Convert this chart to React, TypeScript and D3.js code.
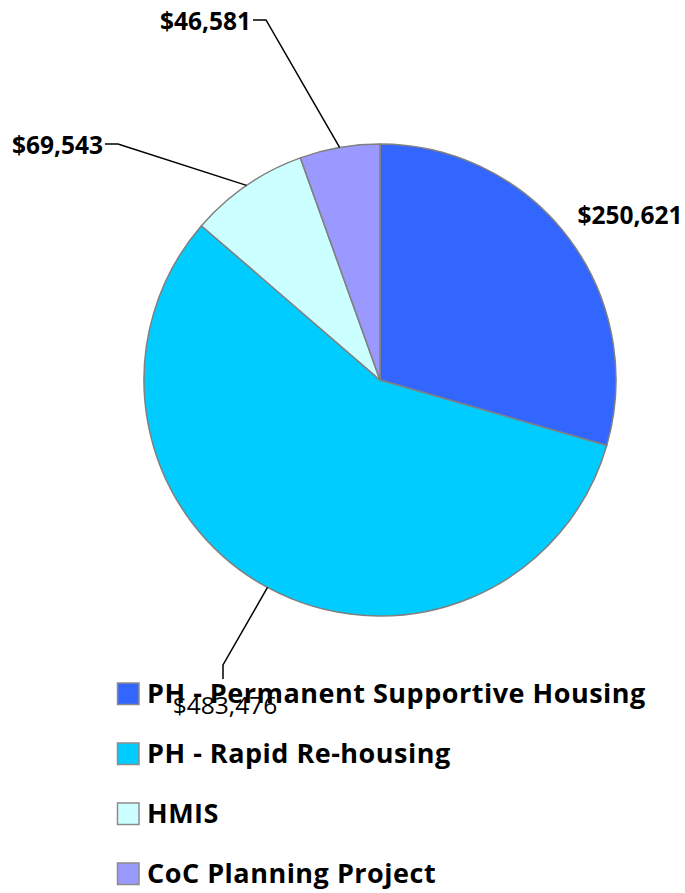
import React from "react";
import * as d3 from "d3";

const categories = [
  "PH - Permanent Supportive Housing",
  "PH - Rapid Re-housing",
  "HMIS",
  "CoC Planning Project",
];
const amounts = [250621, 483476, 69543, 46581];
const sliceColors = ["#3366FF", "#00CCFF", "#CCFFFF", "#9999FF"];

// where each value label sits, relative to the pie centre
// leader: null = no line, "h" = elbow then horizontal run, "v" = elbow then vertical run
const labelLayout = [
  { ex: 250, ey: -156, leader: null, anchor: "middle", bold: true },
  { ex: -157, ey: 285, leader: "v", anchor: "middle", bold: false },
  { ex: -262, ey: -236, leader: "h", anchor: "end", bold: true },
  { ex: -114, ey: -360, leader: "h", anchor: "end", bold: true },
];

const width = 685;
const height = 893;
const cx = 380;
const cy = 380;
const radius = 236;
const font = "'Open Sans', sans-serif";

const money = (v: number) => "$" + d3.format(",")(v);

function Pie() {
  const pie = d3
    .pie<number>()
    .sort(null)
    .value((d) => d)(amounts);

  const arc = d3.arc<d3.PieArcDatum<number>>().innerRadius(0).outerRadius(radius);
  const edge = d3.arc<d3.PieArcDatum<number>>().innerRadius(radius).outerRadius(radius);

  return (
    <g transform={`translate(${cx},${cy})`}>
      {pie.map((slice, i) => (
        <path key={i} d={arc(slice) || ""} fill={sliceColors[i]} stroke="#808080" strokeWidth={1.5} />
      ))}
      {pie.map((slice, i) => {
        const lay = labelLayout[i];
        const [ax, ay] = edge.centroid(slice);
        let pts: [number, number][] = [];
        let tx = lay.ex;
        let ty = lay.ey;
        if (lay.leader === "h") {
          pts = [[ax, ay], [lay.ex, lay.ey], [lay.ex - 13, lay.ey]];
          tx = lay.ex - 15;
          ty = lay.ey + 10;
        } else if (lay.leader === "v") {
          pts = [[ax, ay], [lay.ex, lay.ey], [lay.ex, lay.ey + 14]];
          tx = lay.ex + 2;
          ty = lay.ey + 49;
        }
        return (
          <g key={"l" + i}>
            {pts.length > 0 && (
              <path d={d3.line()(pts) || ""} fill="none" stroke="#000" strokeWidth={1.5} />
            )}
            <text
              x={tx}
              y={ty}
              textAnchor={lay.anchor}
              fontFamily={font}
              fontSize={24.5}
              fontWeight={lay.bold ? "bold" : "normal"}
              fill="#000"
            >
              {money(amounts[i])}
            </text>
          </g>
        );
      })}
    </g>
  );
}

function Legend() {
  const y = d3.scaleBand<string>().domain(categories).range([672, 912]);
  return (
    <g>
      {categories.map((c, i) => {
        const top = (y(c) || 0) + 11;
        return (
          <g key={c}>
            <rect x={117.5} y={top} width={21.5} height={21.5} fill={sliceColors[i]} stroke="#8c8c8c" strokeWidth={1.5} />
            <text
              x={147}
              y={top + 20}
              fontFamily={font}
              fontSize={27}
              fontWeight="bold"
              letterSpacing={0.5}
              fill="#000"
            >
              {c}
            </text>
          </g>
        );
      })}
    </g>
  );
}

export default function App() {
  return (
    <div style={{ position: "absolute", left: 0, top: 0 }}>
      <svg width={width} height={height} style={{ display: "block", background: "#fff" }}>
        <Pie />
        <Legend />
      </svg>
    </div>
  );
}
